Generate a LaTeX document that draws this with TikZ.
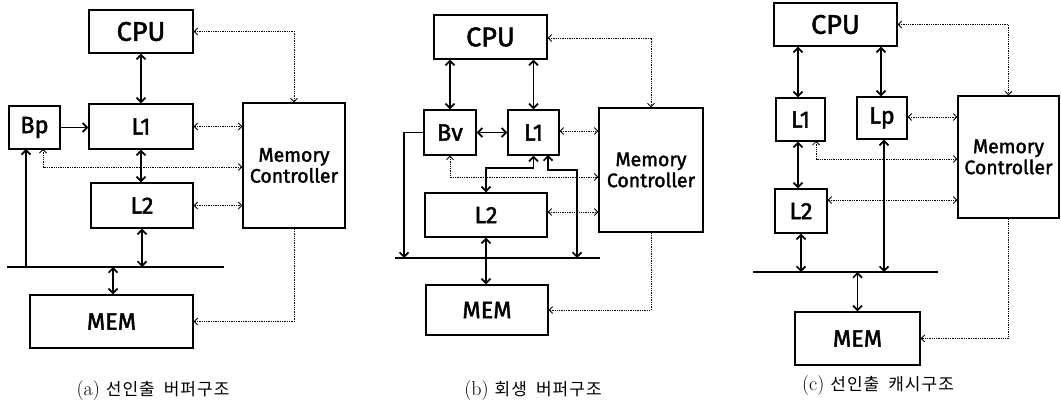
\documentclass[tikz,border=0pt]{standalone}
\usepackage{fontspec}
\newfontfamily\boxfont[FakeBold=1.8]{Fira Sans}
\newfontfamily\krfont[LetterSpace=6]{Noto Sans CJK KR}
\usetikzlibrary{arrows.meta,calc}
\begin{document}
\begin{tikzpicture}[x=1pt,y=-1pt,
  box/.style={draw, line width=1.3pt, inner sep=0pt, font=\boxfont\fontsize{23.5}{25}\selectfont},
  cpubox/.style={box, font=\boxfont\fontsize{27}{29}\selectfont},
  mcbox/.style={box, align=center, font=\boxfont\fontsize{19.5}{21}\selectfont},
  busline/.style={line width=1.4pt},
  sarr/.style={line width=1.7pt, >={Straight Barb[length=4.5pt,width=9pt]}, <->},
  sarrend/.style={line width=1.7pt, >={Straight Barb[length=4.5pt,width=9pt]}, ->},
  darr/.style={line width=0.8pt, dash pattern=on 1.3pt off 1pt, >={Straight Barb[length=3.5pt,width=7pt]}, <->},
  darrend/.style={line width=0.8pt, dash pattern=on 1.3pt off 1pt, >={Straight Barb[length=3.5pt,width=7pt]}, ->},
  captext/.style={font=\fontsize{20}{22}\selectfont, inner sep=0pt}
]
\useasboundingbox (0,0) rectangle (1061,409);
\newcommand\krcap[2]{{\krfont\fontsize{17}{18}\selectfont #1\hspace{9pt}#2}}

% ---------------- panel (a) ----------------
\node[cpubox, minimum width=104pt, minimum height=43pt] (CPUa) at (141,31.5) {CPU};
\node[box, minimum width=104pt, minimum height=45pt] (L1a) at (141,126.5) {L1};
\node[box, minimum width=51pt, minimum height=43pt] (Bpa) at (34.5,127.5) {Bp};
\node[box, minimum width=102pt, minimum height=45pt] (L2a) at (142,205.5) {L2};
\node[mcbox, minimum width=102pt, minimum height=125pt] (MCa) at (294,165.5) {Memory\\Controller};
\node[box, minimum width=163pt, minimum height=53pt] (MEMa) at (111.5,321.5) {MEM};
\coordinate (busaL) at (7,267);
\coordinate (busaR) at (224,267);
\draw[busline] (busaL) -- (busaR);
\coordinate (memba) at (113,267);
\coordinate (bpin) at (26,149);
\coordinate (bpdot) at (43,149);
\coordinate (ya) at (0,167);

\draw[sarr] (CPUa.south) -- (L1a.north);
\draw[sarr] (L1a.south) -- (L1a.south |- L2a.north);
\draw[sarr] (L2a.south) -- (L2a.south |- busaL);
\draw[sarr] (memba) -- (memba |- MEMa.north);
\draw[sarrend] (Bpa.east) -- (Bpa.east -| L1a.west);
\draw[sarrend] (bpin |- busaL) -- (bpin);

\draw[darr] (CPUa.east) -| (MCa.north);
\draw[darr] (L1a.east) -- (L1a.east -| MCa.west);
\draw[darr] (bpdot) |- (MCa.west |- ya);
\draw[darr] (L2a.east) -- (L2a.east -| MCa.west);
\draw[darrend] (MCa.south) |- (MEMa.east);

\node[captext] (capa) at (153,391) {(a)\hspace{6pt}\krcap{선인출}{버퍼구조}};

% ---------------- panel (b) ----------------
\node[cpubox, minimum width=113pt, minimum height=44pt] (CPUb) at (490.5,37) {CPU};
\node[box, minimum width=52pt, minimum height=45pt] (Bvb) at (450,132.5) {Bv};
\node[box, minimum width=51pt, minimum height=45pt] (L1b) at (533.5,132.5) {L1};
\node[mcbox, minimum width=104pt, minimum height=124pt] (MCb) at (651,170) {Memory\\Controller};
\node[box, minimum width=122pt, minimum height=44pt] (L2b) at (486,215) {L2};
\node[box, minimum width=122pt, minimum height=50pt] (MEMb) at (487,310) {MEM};
\coordinate (busbL) at (395,258);
\coordinate (busbR) at (600,258);
\draw[busline] (busbL) -- (busbR);
\coordinate (bvx) at (404,0);
\coordinate (l1r) at (548,155);
\coordinate (l1rx) at (577,0);
\coordinate (yb0) at (0,38);
\coordinate (yb1) at (0,168);
\coordinate (yb2) at (0,170);
\coordinate (yb3) at (0,177);
\coordinate (yb4) at (0,131);
\coordinate (yb5) at (0,212);

\draw[sarr] (Bvb.north |- CPUb.south) -- (Bvb.north);
\draw[sarr] (L1b.north |- CPUb.south) -- (L1b.north);
\draw[sarr] (Bvb.east) -- (L1b.west);
\draw[sarrend] (Bvb.west) -| (bvx |- busbL);
\draw[sarr] (L1b.south) |- (L2b.north |- yb1) -- (L2b.north);
\draw[sarr] (l1r) |- (l1rx |- yb2) -- (l1rx |- busbL);
\draw[sarr] (L2b.south) -- (MEMb.north -| L2b.south);

\draw[darr] (CPUb.east |- yb0) -| (MCb.north);
\draw[darr] (L1b.east |- yb4) -- (MCb.west |- yb4);
\draw[darr] (Bvb.south) |- (MCb.west |- yb3);
\draw[darr] (L2b.east |- yb5) -- (MCb.west |- yb5);
\draw[darrend] (MCb.south) |- (MEMb.east);

\node[captext] (capb) at (533,391) {(b)\hspace{6pt}\krcap{회생}{버퍼구조}};

% ---------------- panel (c) ----------------
\node[cpubox, minimum width=123pt, minimum height=43pt] (CPUc) at (835.5,24.5) {CPU};
\node[box, minimum width=49pt, minimum height=43pt] (L1c) at (800.5,119.5) {L1};
\node[box, minimum width=50pt, minimum height=42pt] (Lpc) at (882,118) {Lp};
\node[mcbox, minimum width=101pt, minimum height=122pt] (MCc) at (1008.5,157) {Memory\\Controller};
\node[box, minimum width=52pt, minimum height=44pt] (L2c) at (801,211) {L2};
\node[box, minimum width=125pt, minimum height=53pt] (MEMc) at (857.5,338.5) {MEM};
\coordinate (buscL) at (753,272);
\coordinate (buscR) at (938,272);
\draw[busline] (buscL) -- (buscR);
\coordinate (xc1) at (798,0);
\coordinate (xc2) at (881,0);
\coordinate (xc3) at (884,0);
\coordinate (l1dot) at (816,141);
\coordinate (yc1) at (0,159);
\coordinate (yc2) at (0,200);
\coordinate (yc3) at (0,117);

\draw[sarr] (xc1 |- CPUc.south) -- (xc1 |- L1c.north);
\draw[sarr] (xc2 |- CPUc.south) -- (xc2 |- Lpc.north);
\draw[sarr] (xc1 |- L1c.south) -- (xc1 |- L2c.north);
\draw[sarr] (L2c.south) -- (L2c.south |- buscL);
\draw[sarr] (xc3 |- Lpc.south) -- (xc3 |- buscL);
\draw[sarr] (MEMc.north |- buscL) -- (MEMc.north);

\draw[darr] (CPUc.east) -| (MCc.north);
\draw[darr] (Lpc.east |- yc3) -- (MCc.west |- yc3);
\draw[darr] (l1dot) |- (MCc.west |- yc1);
\draw[darr] (L2c.east |- yc2) -- (MCc.west |- yc2);
\draw[darrend] (MCc.south) |- (MEMc.east);

\node[captext] (capc) at (878,386) {(c)\hspace{6pt}\krcap{선인출}{캐시구조}};
\end{tikzpicture}
\end{document}
